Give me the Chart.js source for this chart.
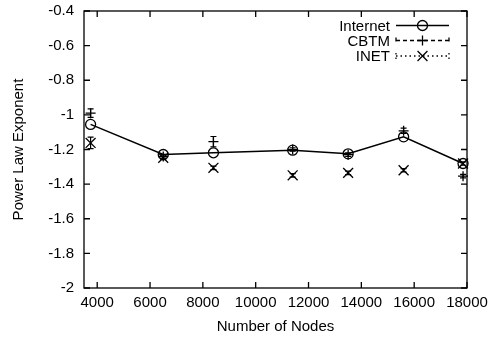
<!DOCTYPE html>
<html>
<head>
<meta charset="utf-8">
<script src="https://cdn.jsdelivr.net/npm/chart.js@4"></script>
<style>
  html, body { margin: 0; padding: 0; background: #fff; }
  canvas { display: block; }
</style>
</head>
<body>
<canvas id="plExp" width="491" height="341"></canvas>
<script>
// values
const nodes = [3750, 6500, 8400, 11400, 13500, 15600, 17850];
const internetExp = [-1.055, -1.229, -1.219, -1.204, -1.225, -1.127, -1.281];
const cbtmExp = [-0.99, -1.24, -1.155, -1.20, -1.23, -1.092, -1.354];
const cbtmErr = [0.025, 0.01, 0.03, 0.01, 0.01, 0.015, 0.01];
const inetExp = [-1.162, -1.248, -1.306, -1.349, -1.335, -1.32, -1.281];
const inetErr = [0.033, 0.01, 0.01, 0.01, 0.01, 0.01, 0.01];
const xTicks = [4000, 6000, 8000, 10000, 12000, 14000, 16000, 18000];
const yTicks = [-2, -1.8, -1.6, -1.4, -1.2, -1, -0.8, -0.6, -0.4];

const FONT = { family: '"Liberation Sans", Arial, sans-serif', size: 15 };
Chart.defaults.color = '#000';

const pts = ys => nodes.map((x, i) => ({ x: x, y: ys[i] }));

// gnuplot style frame with inward ticks on all sides
const frame = {
  id: 'frame',
  beforeDatasetsDraw(chart) {
    const { ctx, chartArea: a, scales } = chart;
    const len = 6;
    ctx.save();
    ctx.strokeStyle = '#000';
    ctx.lineWidth = 1.3;
    ctx.strokeRect(a.left, a.top, a.right - a.left, a.bottom - a.top);
    ctx.beginPath();
    xTicks.forEach(v => {
      const x = scales.x.getPixelForValue(v);
      ctx.moveTo(x, a.bottom); ctx.lineTo(x, a.bottom - len);
      ctx.moveTo(x, a.top); ctx.lineTo(x, a.top + len);
    });
    yTicks.forEach(v => {
      const y = scales.y.getPixelForValue(v);
      ctx.moveTo(a.left, y); ctx.lineTo(a.left + len, y);
      ctx.moveTo(a.right, y); ctx.lineTo(a.right - len, y);
    });
    ctx.stroke();
    ctx.restore();
  }
};

// small y error bars for the CBTM and INET series
const errBars = {
  id: 'errBars',
  afterDatasetsDraw(chart) {
    const { ctx, scales } = chart;
    ctx.save();
    ctx.strokeStyle = '#000';
    ctx.lineWidth = 1.2;
    chart.data.datasets.forEach(ds => {
      if (!ds.err) return;
      ds.data.forEach((p, i) => {
        const x = scales.x.getPixelForValue(p.x);
        const y1 = scales.y.getPixelForValue(p.y + ds.err[i]);
        const y2 = scales.y.getPixelForValue(p.y - ds.err[i]);
        ctx.beginPath();
        ctx.moveTo(x, y1); ctx.lineTo(x, y2);
        ctx.moveTo(x - 3, y1); ctx.lineTo(x + 3, y1);
        ctx.moveTo(x - 3, y2); ctx.lineTo(x + 3, y2);
        ctx.stroke();
      });
    });
    ctx.restore();
  }
};

// key in the top right corner: text then line sample
const key = {
  id: 'key',
  afterDraw(chart) {
    const { ctx } = chart;
    const rows = [25.5, 40.5, 56];
    const dashes = [[], [4, 3], [1.5, 3]];
    ctx.save();
    ctx.font = FONT.size + 'px ' + FONT.family;
    ctx.textAlign = 'right';
    ctx.textBaseline = 'middle';
    chart.data.datasets.forEach((ds, i) => {
      const y = rows[i];
      ctx.fillStyle = '#000';
      ctx.fillText(ds.label, 390, y + 1);
      ctx.strokeStyle = '#000';
      ctx.lineWidth = 1.3;
      ctx.setLineDash(dashes[i]);
      ctx.beginPath();
      ctx.moveTo(396, y); ctx.lineTo(449, y);
      if (ds.err) {
        ctx.moveTo(396, y - 3); ctx.lineTo(396, y + 3);
        ctx.moveTo(449, y - 3); ctx.lineTo(449, y + 3);
      }
      ctx.stroke();
      ctx.setLineDash([]);
      ctx.fillStyle = 'rgba(0,0,0,0)';
      Chart.helpers.drawPoint(ctx, {
        pointStyle: ds.pointStyle, radius: ds.pointRadius, borderWidth: 1.3
      }, 422.5, y);
    });
    ctx.restore();
  }
};

new Chart(document.getElementById('plExp'), {
  type: 'line',
  data: {
    datasets: [
      {
        label: 'Internet', data: pts(internetExp),
        borderColor: '#000', borderWidth: 1.5, backgroundColor: 'rgba(0,0,0,0)',
        pointStyle: 'circle', pointRadius: 5, pointBorderWidth: 1.3,
        pointBorderColor: '#000', pointBackgroundColor: 'rgba(0,0,0,0)',
        tension: 0, clip: false
      },
      {
        label: 'CBTM', data: pts(cbtmExp), err: cbtmErr, showLine: false,
        borderColor: '#000', pointStyle: 'cross', pointRadius: 5,
        pointBorderWidth: 1.3, pointBorderColor: '#000', clip: false
      },
      {
        label: 'INET', data: pts(inetExp), err: inetErr, showLine: false,
        borderColor: '#000', pointStyle: 'crossRot', pointRadius: 7,
        pointBorderWidth: 1.3, pointBorderColor: '#000', clip: false
      }
    ]
  },
  options: {
    responsive: false,
    animation: false,
    events: [],
    layout: { padding: { top: 11, right: 24, left: 0, bottom: 0 } },
    plugins: { legend: { display: false }, tooltip: { enabled: false } },
    scales: {
      x: {
        type: 'linear', min: 3500, max: 18000,
        afterBuildTicks: axis => { axis.ticks = xTicks.map(v => ({ value: v })); },
        afterFit: axis => { axis.height = 53; axis.paddingLeft = 0; axis.paddingRight = 0; },
        grid: { display: false, drawTicks: false }, border: { display: false },
        ticks: { font: FONT, padding: 6, maxRotation: 0, autoSkip: false, callback: v => String(v) },
        title: { display: true, text: 'Number of Nodes', font: FONT, padding: { top: 0, bottom: 5 } }
      },
      y: {
        type: 'linear', min: -2, max: -0.4,
        afterBuildTicks: axis => { axis.ticks = yTicks.map(v => ({ value: v })); },
        afterFit: axis => { axis.width = 84; axis.paddingTop = 0; axis.paddingBottom = 0; },
        grid: { display: false, drawTicks: false }, border: { display: false },
        ticks: { font: FONT, padding: 10, autoSkip: false, callback: v => String(Math.round(v * 10) / 10) },
        title: { display: true, text: 'Power Law Exponent', font: FONT, padding: { top: 10, bottom: 0 } }
      }
    }
  },
  plugins: [frame, errBars, key]
});
</script>
</body>
</html>
